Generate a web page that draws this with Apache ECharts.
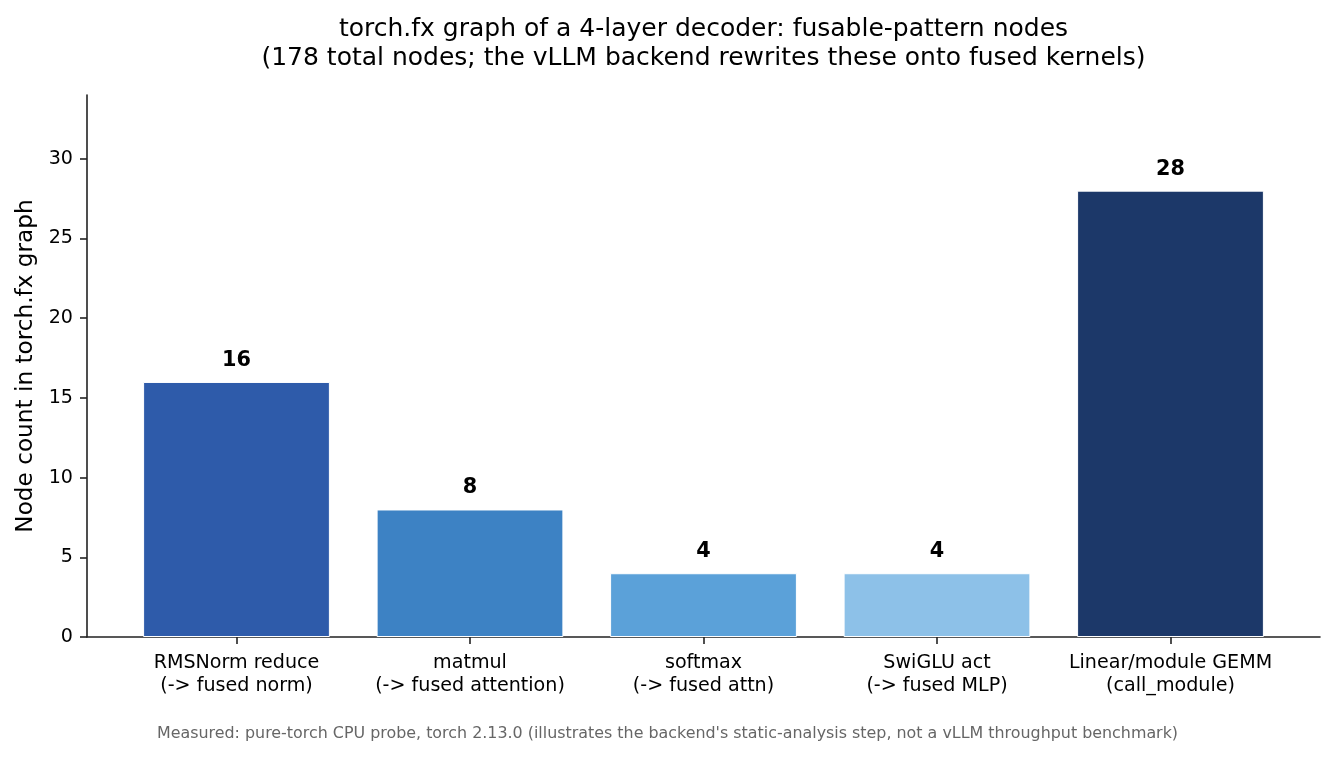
<!DOCTYPE html>
<html>
<head>
<meta charset="utf-8">
<script src="https://cdn.jsdelivr.net/npm/echarts@6/dist/echarts.min.js"></script>
<style>
  html, body { margin: 0; padding: 0; background: #fff; }
  #chart { width: 1335px; height: 757px; }
</style>
</head>
<body>
<div id="chart"></div>
<script>
const categories = [
    'RMSNorm reduce\n(-> fused norm)',
    'matmul\n(-> fused attention)',
    'softmax\n(-> fused attn)',
    'SwiGLU act\n(-> fused MLP)',
    'Linear/module GEMM\n(call_module)'
];
const nodeCounts = [16, 8, 4, 4, 28];
const barColors = ['#2e5baa', '#3d82c4', '#5ba1d9', '#8dc1e8', '#1c3869'];
const yTickValues = [0, 5, 10, 15, 20, 25, 30];
const yMax = 34;

const titleText = 'torch.fx graph of a 4-layer decoder: fusable-pattern nodes\n(178 total nodes; the vLLM backend rewrites these onto fused kernels)';
const footnoteText = "Measured: pure-torch CPU probe, torch 2.13.0 (illustrates the backend's static-analysis step, not a vLLM throughput benchmark)";

const font = 'DejaVu Sans';
const chart = echarts.init(document.getElementById('chart'));

// matplotlib pads the category range by 5%, so the bars sit in a narrower inner grid
const plot = { left: 87, right: 15, top: 95, bottom: 120 };
const inset = 32.75;

const option = {
    animation: false,
    backgroundColor: '#fff',
    textStyle: { fontFamily: font },
    title: [
        {
            text: titleText,
            left: 703.5,
            top: 15,
            padding: 0,
            textAlign: 'center',
            textStyle: { fontFamily: font, fontSize: 25, fontWeight: 'normal', color: '#000', lineHeight: 29 }
        },
        {
            text: footnoteText,
            left: 'center',
            top: 725,
            padding: 0,
            textStyle: { fontFamily: font, fontSize: 15.9, fontWeight: 'normal', color: '#666', lineHeight: 17 }
        }
    ],
    grid: [
        { left: plot.left, right: plot.right, top: plot.top, bottom: plot.bottom },
        { left: plot.left + inset, right: plot.right + inset, top: plot.top, bottom: plot.bottom }
    ],
    xAxis: [
        {
            type: 'value',
            gridIndex: 0,
            min: 0,
            max: 1,
            axisLine: { show: true, lineStyle: { color: '#222', width: 1.6 } },
            axisTick: { show: false },
            axisLabel: { show: false },
            splitLine: { show: false }
        },
        {
            type: 'category',
            gridIndex: 1,
            data: categories,
            axisLine: { show: false },
            axisTick: { show: true, alignWithLabel: true, length: 7, lineStyle: { color: '#222', width: 1.6 } },
            axisLabel: {
                interval: 0,
                margin: 15,
                fontFamily: font,
                fontSize: 19.1,
                lineHeight: 23,
                color: '#000'
            },
            splitLine: { show: false }
        }
    ],
    yAxis: [
        {
            type: 'value',
            gridIndex: 0,
            min: 0,
            max: yMax,
            name: 'Node count in torch.fx graph',
            nameLocation: 'middle',
            nameGap: 50,
            nameTextStyle: { fontFamily: font, fontSize: 23.2, color: '#000' },
            axisLine: { show: true, lineStyle: { color: '#222', width: 1.6 } },
            axisTick: { show: true, length: 7, customValues: yTickValues, lineStyle: { color: '#222', width: 1.6 } },
            axisLabel: { margin: 14, customValues: yTickValues, fontFamily: font, fontSize: 19.1, color: '#000' },
            splitLine: { show: false }
        },
        {
            type: 'value',
            gridIndex: 1,
            min: 0,
            max: yMax,
            show: false
        }
    ],
    series: [
        {
            type: 'bar',
            xAxisIndex: 1,
            yAxisIndex: 1,
            barWidth: '80%',
            data: nodeCounts.map((v, i) => ({
                value: v,
                itemStyle: { color: barColors[i], borderColor: '#fff', borderWidth: 1 }
            })),
            label: {
                show: true,
                position: 'top',
                distance: 11,
                fontFamily: font,
                fontSize: 20.8,
                fontWeight: 'bold',
                lineHeight: 21,
                color: '#000'
            }
        }
    ]
};

chart.setOption(option);
</script>
</body>
</html>
